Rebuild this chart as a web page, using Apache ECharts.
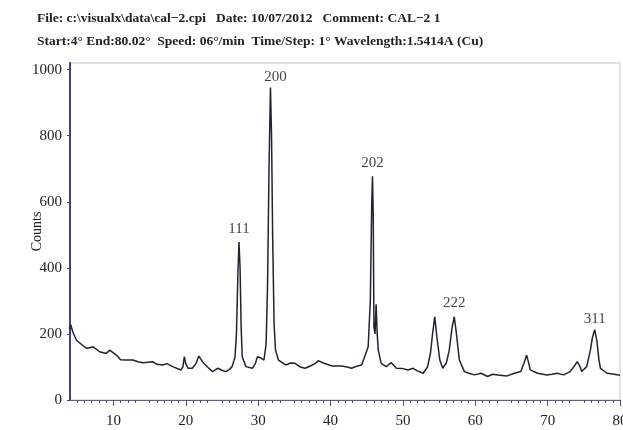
<!DOCTYPE html>
<html>
<head>
<meta charset="utf-8">
<script src="https://cdn.jsdelivr.net/npm/echarts@6/dist/echarts.min.js"></script>
<style>html,body{margin:0;padding:0;background:#fff;}#c{width:623px;height:430px;}</style>
</head>
<body>
<div id="c"></div>
<script>
var twoTheta = [4.0,4.1,4.4,4.9,5.6,6.3,7.2,8.1,9.0,9.5,10.4,11.0,11.6,12.7,13.4,14.1,15.4,16.0,16.8,17.4,18.2,19.3,19.6,19.8,20.0,20.3,20.9,21.4,21.8,22.3,23.0,23.7,24.4,25.0,25.5,26.0,26.4,26.8,27.0,27.2,27.35,27.5,27.65,27.8,28.3,29.2,29.6,29.9,30.3,30.8,31.1,31.3,31.5,31.7,31.85,32.0,32.2,32.4,32.8,33.8,34.5,35.1,35.8,36.5,37.2,37.9,38.3,39.0,40.2,41.5,42.3,42.9,43.6,44.3,44.8,45.2,45.5,45.7,45.8,45.9,46.0,46.15,46.3,46.45,46.6,47.0,47.7,48.4,49.1,50.0,50.7,51.4,52.0,52.8,53.4,53.8,54.1,54.4,54.7,55.1,55.5,56.0,56.4,56.8,57.1,57.4,57.8,58.5,59.2,59.9,60.8,61.7,62.4,63.1,64.4,65.4,66.3,66.7,67.1,67.4,67.6,68.6,69.9,70.6,71.3,72.2,73.1,73.6,74.1,74.5,74.7,75.4,75.9,76.2,76.5,76.8,77.1,77.3,78.2,79.0,79.8,80.0];
var counts = [215,228,205,181,168,156,161,146,141,151,136,122,121,121,116,113,116,108,106,110,101,91,100,131,110,96,96,110,133,116,100,86,96,90,86,92,101,130,200,380,478,400,220,131,101,96,110,131,128,121,170,350,700,946,800,500,230,151,121,106,112,111,100,96,103,111,119,112,103,103,100,96,102,106,136,161,300,600,677,560,220,200,290,200,151,111,101,113,96,95,91,96,88,81,100,140,200,252,190,121,96,112,150,220,252,200,121,86,80,76,81,71,78,76,73,81,86,110,136,110,91,81,76,78,81,76,86,100,116,100,86,101,150,190,213,180,120,96,81,79,76,75];
var peakAt = [27.35, 31.7, 45.8, 57.1, 76.5];
var peakNames = ['111', '200', '202', '222', '311'];
var yTicks = [0, 200, 400, 600, 800, 1000];
var xTicks = [10, 20, 30, 40, 50, 60, 70, 80];
var titleLines = [
  'File: c:\\visualx\\data\\cal\u22122.cpi   Date: 10/07/2012   Comment: CAL\u22122 1',
  'Start:4\u00b0 End:80.02\u00b0  Speed: 06\u00b0/min  Time/Step: 1\u00b0 Wavelength:1.5414A (Cu)'
];

var serif = '"Liberation Serif", "DejaVu Serif", serif';
var lineData = twoTheta.map(function (x, i) { return [x, counts[i]]; });
var peakData = peakAt.map(function (x, k) {
  var i = twoTheta.indexOf(x);
  return {
    value: [x, counts[i]],
    label: { formatter: peakNames[k], offset: peakNames[k] === '200' ? [5, 3] : (peakNames[k] === '311' ? [0, 3] : [0, 0]) }
  };
});

var chart = echarts.init(document.getElementById('c'));
chart.setOption({
  animation: false,
  backgroundColor: '#fff',
  title: {
    text: titleLines.join('\n'),
    left: 37, top: 7, padding: 0,
    textStyle: { fontFamily: serif, fontWeight: 'bold', fontSize: 13.5, color: '#222', lineHeight: 23 }
  },
  grid: { left: 70, right: 3, top: 63, bottom: 30, outerBoundsMode: 'none', containLabel: false,
    show: true, borderColor: '#c8c8d0', borderWidth: 1 },
  xAxis: {
    type: 'value', min: 4, max: 80, interval: 10,
    axisLine: { show: true, onZero: false, lineStyle: { color: '#6a5a8a', width: 1 } },
    axisTick: { show: true, length: 6, lineStyle: { color: '#5a4a7a' }, customValues: xTicks },
    minorTick: { show: true, splitNumber: 10, length: 3, lineStyle: { color: '#5a4a7a' } },
    axisLabel: { fontFamily: serif, fontSize: 15, color: '#222', margin: 14, customValues: xTicks, hideOverlap: false },
    splitLine: { show: false }
  },
  yAxis: {
    type: 'value', min: 0, max: 1020, interval: 200,
    name: 'Counts', nameLocation: 'middle', nameGap: 26, nameMoveOverlap: false,
    nameTextStyle: { fontFamily: serif, fontSize: 14, color: '#222' },
    axisLine: { show: true, lineStyle: { color: '#4a3a8a', width: 2 } },
    axisTick: { show: true, length: 3, lineStyle: { color: '#4a3a8a' }, customValues: yTicks },
    axisLabel: { fontFamily: serif, fontSize: 15, color: '#222', margin: 8, customValues: yTicks,
      formatter: function (v) { return String(v); } },
    splitLine: { show: false }
  },
  series: [{
    type: 'line',
    data: lineData,
    symbol: 'none',
    smooth: false,
    lineStyle: { color: '#24222f', width: 1.5 },
    silent: true
  }, {
    type: 'scatter',
    data: peakData,
    symbolSize: 2,
    itemStyle: { color: 'rgba(0,0,0,0)' },
    label: { show: true, position: 'top', distance: 5, fontFamily: serif, fontSize: 15, color: '#111' },
    silent: true
  }]
});
</script>
</body>
</html>
